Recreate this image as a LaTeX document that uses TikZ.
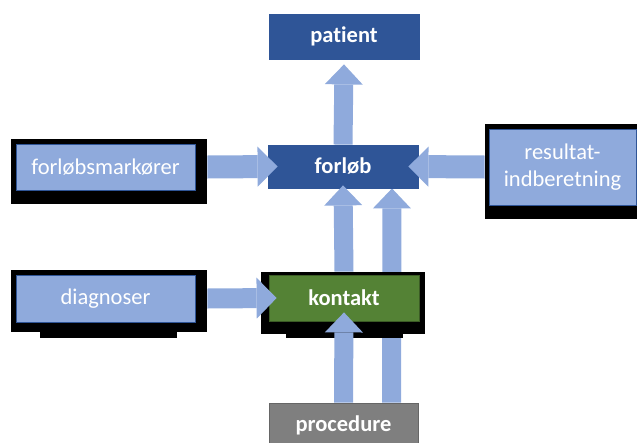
\documentclass[tikz,border=0pt]{standalone}
\usepackage{fontspec}
\setmainfont{Carlito}[RawFeature=-liga]
\usetikzlibrary{arrows.meta}

\pgfdeclarelayer{background}
\pgfsetlayers{background,main}

\definecolor{darkblue}{HTML}{2F5597}
\definecolor{lightblue}{HTML}{8FAADC}
\definecolor{boxgreen}{HTML}{548235}
\definecolor{boxgrey}{HTML}{7F7F7F}

\tikzset{
  box/.style={draw=darkblue, line width=0.8pt, text=white, align=center,
              inner sep=0pt, font=\fontsize{22.5}{27}\selectfont},
  boldbox/.style={box, font=\fontsize{22.5}{27}\selectfont\bfseries},
  hblock/.style={line width=23pt, lightblue,
                 -{Triangle[width=40pt,length=20pt,line width=0pt]}},
  vblock/.style={line width=19pt, lightblue,
                 -{Triangle[width=38pt,length=20pt,line width=0pt]}},
  shadowfill/.style={fill=black}
}

\begin{document}
\begin{tikzpicture}[x=1pt,y=-1pt]
\useasboundingbox (0,0) rectangle (637,442);
\clip (0,0) rectangle (637,442);

\node[boldbox, fill=darkblue, minimum width=150pt, minimum height=45pt] (pa) at (344,36.5) {patient};

\node[boldbox, fill=darkblue, minimum width=150pt, minimum height=43pt] (fo) at (343,166.5) {forløb};

\node[box, fill=lightblue, minimum width=179pt, minimum height=46pt] (fm) at (105.5,167) {forløbsmarkører};

\node[box, fill=lightblue, minimum width=147pt, minimum height=76pt] (ri) at (562.5,167) {resultat-\\indberetning};

\node[box, fill=lightblue, minimum width=179pt, minimum height=47pt] (di) at (105.5,298.5) {diagnoser};

\node[boldbox, draw=boxgreen!70!black, fill=boxgreen, minimum width=150pt, minimum height=46pt] (ko) at (344,298) {kontakt};

\node[boldbox, draw=boxgrey!80!black, fill=boxgrey, minimum width=149pt, minimum height=45pt] (pr) at (343.5,425.5) {procedure};

% black shadows and the arrow that runs behind kontakt
\begin{pgfonlayer}{background}
\draw[vblock] ([xshift=48pt]pr.north) -- ([xshift=49pt]fo.south);
\fill[shadowfill] ([shift={(-5,-5)}]fm.north west) rectangle ([shift={(12,14)}]fm.south east);
\fill[shadowfill] ([shift={(-4,-5)}]ri.north west) rectangle ([shift={(4,14)}]ri.south east);
\fill[shadowfill] ([shift={(-5,-5)}]di.north west) rectangle ([shift={(12,10)}]di.south east);
\fill[shadowfill] ([shift={(24,0)}]di.south west) rectangle ([shift={(-18,16)}]di.south east);
\fill[shadowfill] ([shift={(-8,-3)}]ko.north west) rectangle ([shift={(6,13)}]ko.south east);
\fill[shadowfill] ([shift={(17,0)}]ko.south west) rectangle ([shift={(-16,17)}]ko.south east);
\end{pgfonlayer}

\draw[vblock] (fo.north) -- ([yshift=-5pt]pa.south);
\draw[hblock] ([xshift=12pt]fm.east) -- ([xshift=10pt]fo.west);
\draw[hblock] ([xshift=-4pt]ri.west) -- ([xshift=-10pt]fo.east);
\draw[vblock] ([yshift=3pt]ko.north) -- ([yshift=3pt]fo.south);
\draw[hblock, line width=20pt, -{Triangle[width=41pt,length=20pt,line width=0pt]}] ([xshift=12pt]di.east) -- ([xshift=8pt]ko.west);
\draw[vblock] (pr.north) -- ([yshift=9pt]ko.south);
\end{tikzpicture}
\end{document}
